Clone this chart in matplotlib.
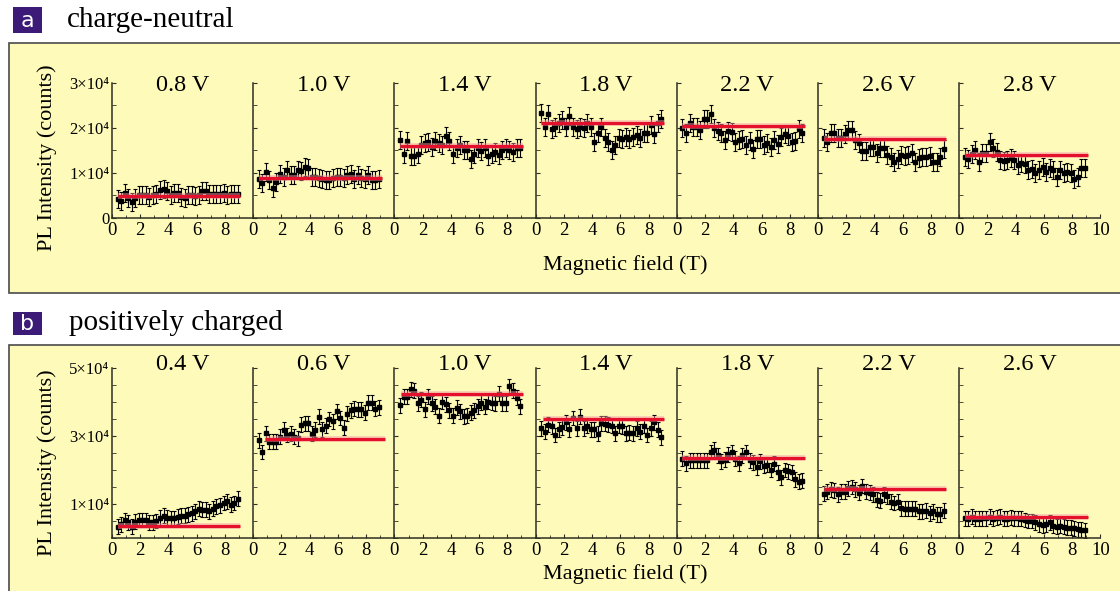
import numpy as np
import matplotlib
matplotlib.use("Agg")
from matplotlib import pyplot as plt
from matplotlib.patches import Rectangle
from matplotlib.ticker import MultipleLocator

plt.rcParams['font.family'] = ['Liberation Serif', 'DejaVu Serif']

W, H = 1120, 591

# magnetic field grid (T)
FIELD = [0.4, 0.65, 0.9, 1.15, 1.4, 1.65, 1.9, 2.15, 2.4, 2.65, 2.9, 3.15,
         3.4, 3.65, 3.9, 4.15, 4.4, 4.65, 4.9, 5.15, 5.4, 5.65, 5.9, 6.15,
         6.4, 6.65, 6.9, 7.15, 7.4, 7.65, 7.9, 8.15, 8.4, 8.65, 8.9]

""" ---- (a) charge-neutral ---- """
volts_a = ["0.8 V", "1.0 V", "1.4 V", "1.8 V", "2.2 V", "2.6 V", "2.8 V"]
fit_a = [4900, 8900, 16000, 21200, 20500, 17600, 13900]
err_a = 2000

a_08 = [4250, 3730, 5520, 4480, 3510, 4400, 5000, 5000, 5150, 4630, 5220, 5370,
        6270, 6420, 5900, 5220, 5520, 5520, 4630, 4480, 5000, 5000, 4850, 5000,
        5900, 5900, 5370, 5370, 5370, 5370, 5500, 5200, 5370, 5300, 5370]
a_10 = [8580, 7760, 10150, 8360, 6720, 7990, 9700, 9100, 10600, 9630, 9630, 10600,
        10450, 11340, 11190, 9100, 9100, 8960, 8730, 8510, 8510, 8960, 9100, 9100,
        8960, 9480, 9700, 8730, 9480, 8960, 8580, 9480, 8360, 8360, 8580]
a_14 = [17310, 14180, 17160, 13880, 13730, 14330, 16190, 16570, 16870, 15820, 17090, 16570,
        16190, 18210, 17160, 14180, 15450, 16190, 15070, 15070, 13060, 14330, 15450, 14930,
        15450, 13880, 14330, 14700, 13960, 15070, 15450, 15220, 14700, 15450, 15450]
a_18 = [23280, 20300, 23130, 19700, 20300, 21040, 21790, 20300, 22690, 20300, 19700, 20300,
        19930, 21040, 20300, 16940, 18960, 20300, 17690, 16940, 15070, 16190, 17690, 17460,
        18060, 17460, 17910, 18430, 17690, 18810, 18810, 20670, 18660, 21040, 21940]
a_22 = [19930, 18960, 21040, 20300, 20300, 19550, 21940, 21940, 23060, 19930, 19400, 18960,
        17310, 19400, 19180, 16940, 17310, 17460, 16190, 17160, 15300, 17460, 17460, 16190,
        16570, 15820, 17310, 16420, 17910, 18580, 18210, 16940, 17090, 19700, 18810]
a_26 = [17690, 16790, 18810, 18810, 17690, 17690, 18660, 19550, 19550, 17310, 16720, 14930,
        14930, 15820, 15820, 14480, 15450, 15450, 13960, 13580, 12460, 13210, 13960, 13730,
        13960, 14480, 12460, 13430, 13580, 13580, 13730, 12460, 12460, 13580, 15300]
a_28 = [13580, 13210, 14330, 15070, 12460, 14480, 14480, 16940, 15450, 14700, 12990, 12610,
        12840, 13430, 12840, 11720, 12240, 12090, 10750, 10970, 10000, 10750, 11340, 10220,
        11190, 10750, 9100, 10600, 10000, 10220, 10000, 8730, 9100, 11190, 11120]
series_a = [a_08, a_10, a_14, a_18, a_22, a_26, a_28]
range_a = [(0.4, 9.1)] * 7

""" ---- (b) positively charged ---- """
volts_b = ["0.4 V", "0.6 V", "1.0 V", "1.4 V", "1.8 V", "2.2 V", "2.6 V"]
fit_b = [3600, 29000, 42500, 35100, 23400, 14500, 6100]
err_b = 2200

b_04 = [3300, 4000, 5300, 4600, 3300, 4800, 5300, 5300, 5300, 4600, 4600, 5000,
        6000, 6600, 6000, 5800, 5800, 6300, 6600, 6600, 7000, 7300, 7800, 8600,
        8300, 8300, 7800, 8600, 9300, 9600, 10300, 10800, 9800, 10300, 11600]
b_06 = [28800, 25300, 30800, 28300, 28300, 28300, 29800, 31800, 30300, 30600, 29800, 29300,
        33300, 33800, 33800, 30600, 31800, 35600, 32000, 33000, 35000, 34300, 37300, 35300,
        32500, 36500, 37600, 38000, 37800, 37800, 36800, 39800, 39800, 38000, 38500]
b_10 = [39000, 41600, 41600, 43800, 43300, 39600, 40600, 37800, 41600, 39600, 38600, 36000,
        40000, 39300, 37600, 36000, 38300, 37300, 35800, 36000, 36800, 37600, 38800, 39800,
        38600, 40000, 39800, 39600, 42500, 39600, 39600, 44600, 43300, 41300, 38800]
b_14 = [32300, 31300, 33300, 32800, 30300, 32000, 32600, 34000, 32000, 35300, 32300, 35600,
        32300, 33000, 32000, 32000, 30600, 33800, 33600, 33300, 33000, 30800, 33000, 32800,
        30800, 31000, 30800, 32300, 31300, 33000, 30300, 32300, 34000, 31800, 29600]
b_18 = [23300, 22000, 22800, 22800, 22800, 22800, 22800, 22800, 25300, 26000, 24300, 22600,
        23000, 24600, 25300, 23300, 22000, 24300, 25300, 22800, 22300, 20800, 22600, 21300,
        21600, 20000, 21800, 19300, 17800, 20000, 19600, 19300, 17300, 16600, 16800]
b_22 = [13000, 13600, 14300, 14000, 12800, 13600, 13600, 14600, 15000, 14300, 13300, 15300,
        13600, 13300, 12800, 11300, 11000, 12800, 12300, 10600, 10300, 10600, 8800, 8600,
        8600, 8600, 8600, 7800, 7800, 8000, 7300, 7800, 7000, 7000, 8000]
b_26 = [5800, 5600, 6300, 5600, 5600, 5800, 5800, 6300, 5600, 6000, 6300, 5600,
        5600, 6000, 5800, 5800, 5600, 5300, 5000, 5000, 4600, 4000, 3800, 4000,
        4600, 3600, 3300, 3600, 3300, 3000, 3000, 2800, 2600, 2500, 2300]
series_b = [b_04, b_06, b_10, b_14, b_18, b_22, b_26]
range_b = [(0.4, 9.1), (0.85, 9.35), (0.5, 9.1), (0.5, 9.1), (0.4, 9.1), (0.4, 9.1), (0.4, 9.1)]

YT_A = [0, 10000, 20000, 30000]
YL_A = ["0", "1×10⁴", "2×10⁴", "3×10⁴"]
YT_B = [10000, 30000, 50000]
YL_B = ["1×10⁴", "3×10⁴", "5×10⁴"]

BG = '#fefab9'
EDGE = '#4a4a4a'
PURPLE = '#3b1a78'
RED = '#e5102c'
AXC = '#2e2e22'


def fx(px):
    return px / W


def fy(py):
    return 1 - py / H


fig = plt.figure(figsize=(W / 100, H / 100), dpi=100)

# panel backgrounds
for top, bot in [(43, 293), (345, 600)]:
    fig.add_artist(Rectangle((fx(8.5), fy(bot)), fx(1130 - 8.5), (bot - top) / H,
                             transform=fig.transFigure, facecolor=BG,
                             edgecolor=EDGE, linewidth=1.2, zorder=0))

# panel letters + headings
for letter, head, top, bot, hx in [("a", "charge-neutral", 7, 33, 67),
                                   ("b", "positively charged", 312, 335, 69)]:
    fig.add_artist(Rectangle((fx(13), fy(bot)), fx(29), (bot - top) / H,
                             transform=fig.transFigure, facecolor=PURPLE,
                             edgecolor='none', zorder=1))
    fig.text(fx(27.5), fy((top + bot) / 2 + 1), letter, color='white', ha='center',
             va='center', fontsize=16, family=['DejaVu Sans'])
    fig.text(fx(hx), fy((top + bot) / 2), head, ha='left', va='center', fontsize=21)


def draw_row(volts, series, fits, ranges, err, top, bottom, ymax, yt, yl, lab_y, xlab_y, title_y):
    x0 = 112
    step = 141.2
    for i in range(len(volts)):
        ax = fig.add_axes([fx(x0 + i * step), fy(bottom), step / W, (bottom - top) / H])
        ax.patch.set_alpha(0)
        ax.errorbar(FIELD, series[i], yerr=err, fmt='s', ms=2.7, color='black',
                    ecolor='black', elinewidth=0.8, capsize=1.5, capthick=0.8, zorder=2)
        ax.plot(ranges[i], [fits[i], fits[i]], color='#f4a0a8', lw=4.2, alpha=0.5,
                solid_capstyle='butt', zorder=3)
        ax.plot(ranges[i], [fits[i], fits[i]], color=RED, lw=2.3,
                solid_capstyle='butt', zorder=4)
        ax.set_xlim(0, 10)
        ax.set_ylim(0, ymax)
        for s in ['top', 'right']:
            ax.spines[s].set_visible(False)
        for s in ['left', 'bottom']:
            ax.spines[s].set_color(AXC)
            ax.spines[s].set_linewidth(1.1)
        ax.set_xticks([0, 2, 4, 6, 8, 10] if i == len(volts) - 1 else [0, 2, 4, 6, 8])
        ax.xaxis.set_minor_locator(MultipleLocator(1))
        ax.yaxis.set_minor_locator(MultipleLocator(5000))
        ax.set_yticks(yt)
        if i == 0:
            ax.set_yticklabels(yl)
        else:
            ax.set_yticklabels([])
        ax.tick_params(axis='x', which='major', direction='in', length=3, width=0.8,
                       labelsize=13.5, pad=3, colors=AXC, labelcolor='black')
        ax.tick_params(axis='x', which='minor', direction='in', length=2, width=0.6, colors=AXC)
        ax.tick_params(axis='y', which='major', direction='in', length=3, width=0.8,
                       labelsize=12, pad=2, colors=AXC, labelcolor='black')
        ax.tick_params(axis='y', which='minor', direction='in', length=3, width=0.6, colors=AXC)
        ax.text(0.5, (bottom - title_y) / (bottom - top), volts[i],
                transform=ax.transAxes, ha='center', va='center', fontsize=17.5)
    fig.text(fx(47), fy(lab_y), "PL Intensity (counts)", rotation=90, ha='center',
             va='center', fontsize=16)
    fig.text(fx(625), fy(xlab_y), "Magnetic field (T)", ha='center', va='center', fontsize=16)


draw_row(volts_a, series_a, fit_a, range_a, err_a, 83, 218, 30000, YT_A, YL_A, 158, 265, 86)
draw_row(volts_b, series_b, fit_b, range_b, err_b, 368, 538, 50000, YT_B, YL_B, 463, 574, 365)

fig.savefig("out.png", dpi=100)
